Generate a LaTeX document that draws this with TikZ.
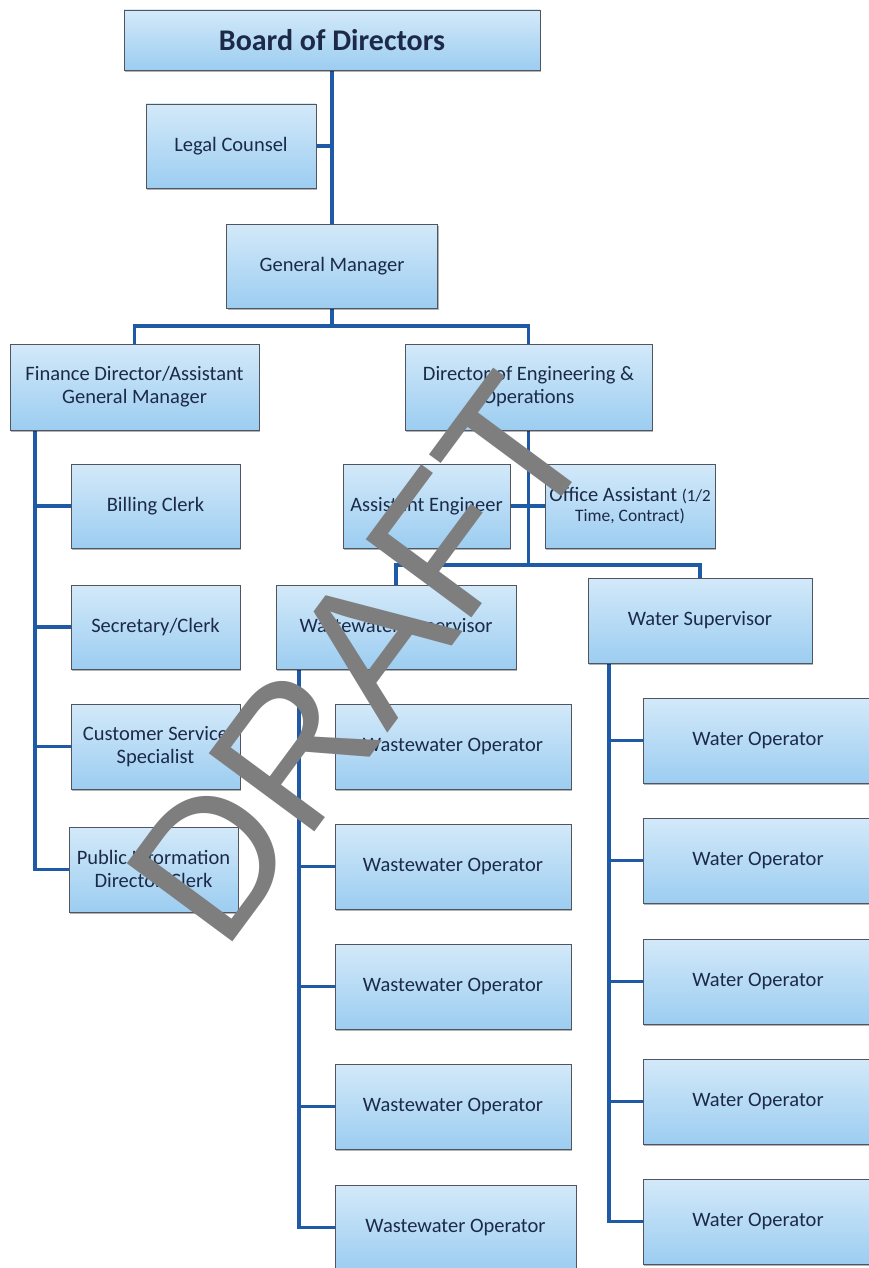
\documentclass[tikz,border=0pt]{standalone}
\usepackage{fontspec}
\setmainfont{Carlito}
\newfontfamily\arialf{Liberation Sans}
\usetikzlibrary{shadows,backgrounds}
\definecolor{boxtop}{HTML}{D3E9F9}
\definecolor{boxbot}{HTML}{9CCDF1}
\definecolor{boxline}{HTML}{505560}
\definecolor{txt}{HTML}{1C2A48}
\definecolor{linec}{HTML}{1F5AA6}
\definecolor{wm}{HTML}{7E7E7E}
\tikzset{
  box/.style={draw=boxline, line width=0.8pt, top color=boxtop, bottom color=boxbot,
    text=txt, font=\fontsize{20.5}{23}\selectfont, align=center, inner sep=2pt,
    minimum height=84pt,
    drop shadow={shadow xshift=1.2pt, shadow yshift=-2pt, opacity=0.3, fill=black}},
  conn/.style={draw=linec, line width=3.9pt, line join=miter},
}
\begin{document}
\begin{tikzpicture}[x=1pt, y=-1pt]
\useasboundingbox (0,0) rectangle (868,1268);
% top levels
\node[box, minimum width=416pt, minimum height=60pt, font=\bfseries\fontsize{30}{34}\selectfont] (board) at (332,40) {Board of Directors};
\node[box, minimum width=170pt] (legal) at (231,146) {Legal Counsel};
\node[box, minimum width=211pt] (gm) at (332,266) {General Manager};
\node[box, minimum width=249pt, minimum height=86pt] (fin) at (134.5,387) {Finance Director/Assistant\\General Manager};
\node[box, minimum width=247pt, minimum height=86pt] (eng) at (528.5,387) {Director of Engineering \&\\Operations};
% finance branch
\node[box, minimum width=169pt] (bill) at (155.5,506) {Billing Clerk};
\node[box, minimum width=169pt] (sec) at (155.5,627) {Secretary/Clerk};
\node[box, minimum width=169pt, minimum height=85pt] (css) at (155.5,746.5) {Customer Service\\Specialist};
\node[box, minimum width=169pt, minimum height=85pt] (pub) at (153.5,869.5) {Public Information\\Director/Clerk};
% engineering branch
\node[box, minimum width=167pt] (asst) at (426.5,506) {Assistant Engineer};
\node[box, minimum width=170pt, inner sep=1pt] (office) at (630,506) {Office Assistant {\fontsize{17}{20}\selectfont(1/2}\\[-3pt]{\fontsize{17.5}{20}\selectfont Time, Contract)}};
\node[box, minimum width=240pt] (wws) at (396,627) {Wastewater Supervisor};
\node[box, minimum width=224pt, minimum height=85pt] (ws) at (700,620.5) {Water Supervisor};
% wastewater operators
\node[box, minimum width=236pt, minimum height=85pt] (wwo1) at (453,746.5) {Wastewater Operator};
\node[box, minimum width=236pt, minimum height=85pt] (wwo2) at (453,866.5) {Wastewater Operator};
\node[box, minimum width=236pt, minimum height=85pt] (wwo3) at (453,986.5) {Wastewater Operator};
\node[box, minimum width=236pt, minimum height=85pt] (wwo4) at (453,1106.5) {Wastewater Operator};
\node[box, minimum width=241pt, minimum height=85pt] (wwo5) at (455.5,1227.5) {Wastewater Operator};
% water operators
\node[box, minimum width=230pt, minimum height=85pt] (wo1) at (758,740.5) {Water Operator};
\node[box, minimum width=230pt, minimum height=85pt] (wo2) at (758,860.5) {Water Operator};
\node[box, minimum width=230pt, minimum height=85pt] (wo3) at (758,981.5) {Water Operator};
\node[box, minimum width=230pt, minimum height=85pt] (wo4) at (758,1101.5) {Water Operator};
\node[box, minimum width=230pt, minimum height=85pt] (wo5) at (758,1221.5) {Water Operator};
% helper coordinates
\coordinate (busA) at (0,326);
\coordinate (busB) at (0,565);
\coordinate (finx) at (35,0);
\coordinate (wwsx) at (299,0);
\coordinate (wsx) at (609,0);
\begin{scope}[on background layer]
\draw[conn] (board.south) -- (board.south |- gm.north);
\draw[conn] (legal.east) -- (legal.east -| board.south);
\draw[conn] (gm.south) -- (gm.south |- busA);
\draw[conn] (fin.north) -- (fin.north |- busA) -| (eng.north);
\draw[conn] (finx |- fin.south) -- (finx |- pub.west) -- (pub.west);
\draw[conn] (finx |- bill.west) -- (bill.west);
\draw[conn] (finx |- sec.west) -- (sec.west);
\draw[conn] (finx |- css.west) -- (css.west);
\draw[conn] (eng.south) -- (eng.south |- busB);
\draw[conn] (asst.east) -- (office.west);
\draw[conn] (wws.north) -- (wws.north |- busB) -| (ws.north);
\draw[conn] (wwsx |- wws.south) -- (wwsx |- wwo5.west) -- (wwo5.west);
\draw[conn] (wwsx |- wwo1.west) -- (wwo1.west);
\draw[conn] (wwsx |- wwo2.west) -- (wwo2.west);
\draw[conn] (wwsx |- wwo3.west) -- (wwo3.west);
\draw[conn] (wwsx |- wwo4.west) -- (wwo4.west);
\draw[conn] (wsx |- ws.south) -- (wsx |- wo5.west) -- (wo5.west);
\draw[conn] (wsx |- wo1.west) -- (wo1.west);
\draw[conn] (wsx |- wo2.west) -- (wo2.west);
\draw[conn] (wsx |- wo3.west) -- (wo3.west);
\draw[conn] (wsx |- wo4.west) -- (wo4.west);
\end{scope}
% watermark
\node[rotate=53.5, anchor=base west, inner sep=0pt, text=wm, font=\arialf\fontsize{191}{191}\selectfont] (draft) at (223,955) {DRAFT};
\end{tikzpicture}
\end{document}
